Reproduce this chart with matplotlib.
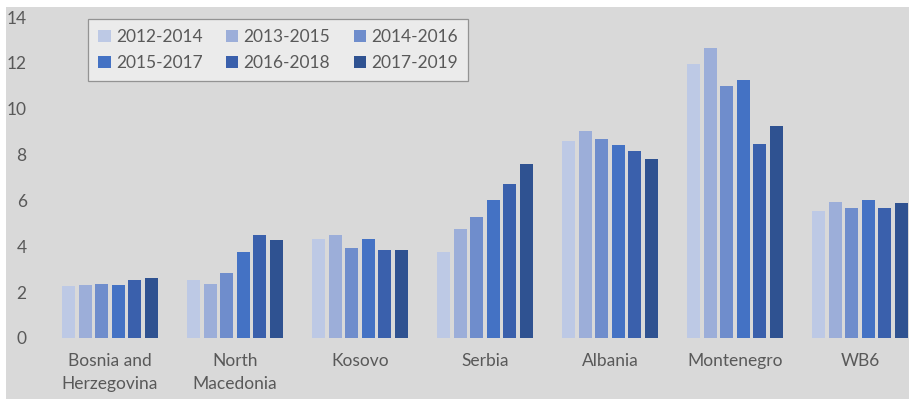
import numpy as np
import matplotlib.pyplot as plt

plt.rcParams['font.family'] = ['Lato', 'DejaVu Sans']

countries = ["Bosnia and\nHerzegovina", "North\nMacedonia", "Kosovo", "Serbia",
             "Albania", "Montenegro", "WB6"]
periods = ["2012-2014", "2013-2015", "2014-2016", "2015-2017", "2016-2018", "2017-2019"]

# one list per period, in country order
v_2012_2014 = [2.28, 2.54, 4.31, 3.77, 8.61, 11.94, 5.56]
v_2013_2015 = [2.31, 2.35, 4.51, 4.76, 9.04, 12.63, 5.92]
v_2014_2016 = [2.35, 2.84, 3.92, 5.27, 8.69, 11.01, 5.66]
v_2015_2017 = [2.30, 3.77, 4.31, 6.04, 8.41, 11.26, 6.01]
v_2016_2018 = [2.53, 4.50, 3.85, 6.72, 8.16, 8.47, 5.69]
v_2017_2019 = [2.63, 4.26, 3.82, 7.57, 7.81, 9.24, 5.90]
series = [v_2012_2014, v_2013_2015, v_2014_2016, v_2015_2017, v_2016_2018, v_2017_2019]

colors = ["#bdc9e5", "#9caed9", "#6f8dcc", "#4472c4", "#3a60ac", "#2f5291"]
bg = "#d9d9d9"

W, H = 909, 399
fig = plt.figure(figsize=(W / 100, H / 100), dpi=100)
fig.patch.set_facecolor(bg)

# thin white margin along the left and top edges
for rect in ([0, 0, 6 / W, 1], [0, 1 - 7 / H, 1, 7 / H]):
    strip = fig.add_axes(rect, zorder=0)
    strip.set_facecolor("white")
    strip.set_xticks([])
    strip.set_yticks([])
    for s in strip.spines.values():
        s.set_visible(False)

ax = fig.add_axes([47.5 / W, 1 - 338 / H, 875 / W, 321 / H], zorder=1)
ax.patch.set_alpha(0)

x = np.arange(len(countries))
step = 0.133
width = 0.104
bars = []
for i, (vals, c, lab) in enumerate(zip(series, colors, periods)):
    bars.append(ax.bar(x + (i - 2.5) * step, vals, width=width, color=c, label=lab, zorder=2))

ax.set_xlim(-0.5, len(countries) - 0.5)
ax.set_ylim(0, 14)
ax.set_yticks(np.arange(0, 15, 2))
ax.set_xticks(x)
ax.set_xticklabels(countries, linespacing=1.55)
ax.tick_params(axis="both", length=0, labelsize=12.5, labelcolor="#595959")
ax.tick_params(axis="y", pad=15)
ax.tick_params(axis="x", pad=11)
for s in ax.spines.values():
    s.set_visible(False)

# legend reads row by row, so feed it column-major
order = [0, 3, 1, 4, 2, 5]
leg = ax.legend([bars[k] for k in order], [periods[k] for k in order],
                ncol=3, loc="upper left", bbox_to_anchor=(88 / W, 1 - 19 / H),
                bbox_transform=fig.transFigure, fontsize=12.5, frameon=True,
                fancybox=False, handlelength=0.7, handleheight=0.7,
                handletextpad=0.3, columnspacing=1.35, borderpad=0.6,
                labelspacing=0.55, borderaxespad=0)
leg.get_frame().set_facecolor("#f0f0f0")
leg.get_frame().set_edgecolor("#7f7f7f")
leg.get_frame().set_linewidth(0.9)
for t in leg.get_texts():
    t.set_color("#595959")

fig.savefig("out.png", dpi=100, facecolor=fig.get_facecolor())
